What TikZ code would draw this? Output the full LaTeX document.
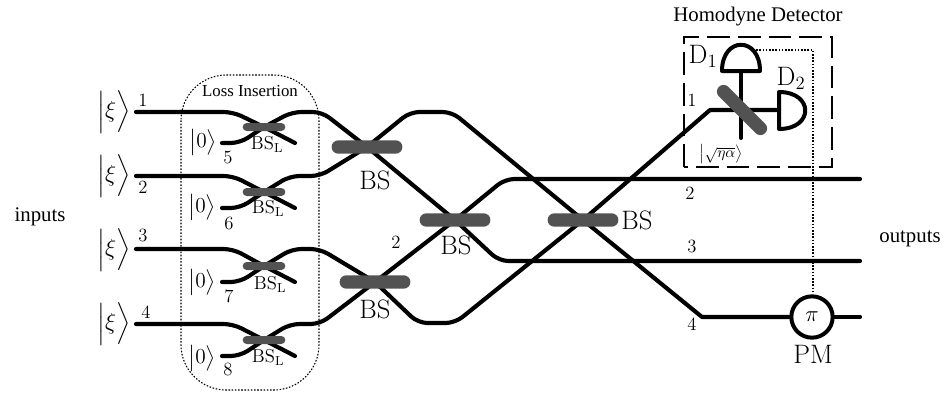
\documentclass[tikz,border=0pt]{standalone}
\usepackage{fix-cm}
\usepackage{amsmath, amssymb}
\usepackage{fontspec}
\setmainfont{Liberation Serif}
\usepackage{tikz}
\usetikzlibrary{backgrounds}
\definecolor{bsgray}{gray}{0.32}
\DeclareMathAlphabet{\mathcm}{OT1}{cmr}{m}{n}
\tikzset{
  guide/.style={line width=3.1pt,line cap=round,line join=round,rounded corners=7pt},
  thinguide/.style={line width=3pt,line cap=round,line join=miter},
  bsbar/.style={fill=bsgray,rounded corners=4.9pt,minimum width=53pt,minimum height=10pt,inner sep=0pt},
  bslbar/.style={fill=bsgray,rounded corners=3pt,minimum width=32pt,minimum height=6pt,inner sep=0pt},
  mirror/.style={fill=bsgray,rounded corners=4.9pt,minimum width=49pt,minimum height=10pt,inner sep=0pt,rotate=-45},
  bigtext/.style={font=\fontsize{20}{22}\selectfont,inner sep=0.75pt},
  smalltext/.style={font=\fontsize{14}{16}\selectfont,inner sep=0.75pt},
  ket/.style={font=\fontsize{16}{18}\selectfont,inner sep=0pt},
  bigket/.style={font=\fontsize{17.5}{18}\selectfont,inner sep=0pt},
  word/.style={font=\fontsize{15.6}{18}\selectfont,inner sep=0.75pt},
  linkdot/.style={line width=0.8pt,dash pattern=on 1.2pt off 1.2pt}
}
\begin{document}
\begin{tikzpicture}[x=0.75pt,y=0.75pt,yscale=-1,xscale=1]
            \useasboundingbox (0,0) rectangle (945,394);

            % Beam splitters
            \node (bsA) [bsbar] at (367,147) {};
            \node (bsB) [bsbar] at (455,220) {};
            \node (bsC) [bsbar] at (375,282) {};
            \node (bsD) [bsbar] at (583,220) {};
            \node (lossA) [bslbar] at (264,127) {};
            \node (lossB) [bslbar] at (264,192) {};
            \node (lossC) [bslbar] at (264,266) {};
            \node (lossD) [bslbar] at (264,340) {};
            \node (bsHom) [mirror] at (742,110) {};
            \node (pm) [circle,draw,line width=3pt,minimum size=31pt,inner sep=0pt,font=\fontsize{17}{20}\selectfont] at (812,317) {$\pi$};

            % Free ends
            \coordinate (inA) at (136,112);
            \coordinate (inB) at (136,176);
            \coordinate (inC) at (136,249);
            \coordinate (inD) at (136,324);
            \coordinate (outB) at (860,179);
            \coordinate (outC) at (860,261);
            \coordinate (outD) at (860,317);
            \coordinate (detA) at (741,71);
            \coordinate (detB) at (779,110);

            \begin{pgfonlayer}{background}
            % Input lines through the loss splitters
            \draw[guide] (inA) -- (233,112) -- (lossA.center) -- (295,143);
            \draw[guide] (inB) -- (233,176) -- (lossB.center) -- (295,208);
            \draw[guide] (inC) -- (233,249) -- (lossC.center) -- (295,282);
            \draw[guide] (inD) -- (233,324) -- (lossD.center) -- (295,356);

            % Vacuum ports on to the network
            \draw[guide] (222,143) -- (240,143) -- (lossA.center) -- (292,112) -- (322,112) -- (bsA.center) -- (bsB.center) -- (499,261) -- (outC);
            \draw[guide] (222,208) -- (240,208) -- (lossB.center) -- (290,176) -- (320,176) -- (bsA.center) -- (410,112) -- (452,112) -- (bsD.center) [sharp corners] -- (702,317) -- (pm.west);
            \draw[guide] (222,282) -- (240,282) -- (lossC.center) -- (292,249) -- (320,249) -- (bsC.center) -- (418,323) -- (455,323) -- (bsD.center) [sharp corners] -- (710,110) -- (detB);
            \draw[guide] (222,356) -- (240,356) -- (lossD.center) -- (290,324) -- (320,324) -- (bsC.center) -- (bsB.center) -- (505,179) -- (outB);
            \draw[guide] (pm.east) -- (outD);
            \draw[thinguide] (detA) -- (741,138);

            % Detectors
            \draw[line width=3pt,line join=round] (722,71) .. controls (722,36) and (760,36) .. (760,71) -- cycle;
            \draw[line width=3pt,line join=round] (779,92) .. controls (814,92) and (814,129) .. (779,129) -- cycle;
            \end{pgfonlayer}

            % Boxes
            \draw[linkdot,rounded corners=34pt] (181,75) rectangle (319,390);
            \draw[line width=0.9pt,dash pattern=on 17pt off 6pt] (684,167) -- (684,37) -- (832,37) -- (832,167) -- cycle;
            \draw[linkdot] (753,50) -- (813,50) -- (813,294);

            % Labels
            \node (lblInputs) [word] at (40,217) {inputs};
            \node (lblOutputs) [word] at (910,239) {outputs};
            \node (lblHomodyne) [word] at (758,17) {Homodyne Detector};
            \node (lblLoss) [font=\fontsize{12.6}{15}\selectfont,inner sep=0.75pt] at (250,91) {Loss Insertion};
            \node (ketA) [bigket] at (114,112) {$\Bigl|\xi\Bigr\rangle$};
            \node (ketB) [bigket] at (114,176) {$\Bigl|\xi\Bigr\rangle$};
            \node (ketC) [bigket] at (114,250) {$\Bigl|\xi\Bigr\rangle$};
            \node (ketD) [bigket] at (114,324) {$\Bigl|\xi\Bigr\rangle$};
            \node (zeroA) [ket] at (203,142) {$\bigl|0\bigr\rangle$};
            \node (zeroB) [ket] at (202,207) {$\bigl|0\bigr\rangle$};
            \node (zeroC) [ket] at (202,282) {$\bigl|0\bigr\rangle$};
            \node (zeroD) [ket] at (202,358) {$\bigl|0\bigr\rangle$};
            \node (numA) [smalltext] at (143,100) {$1$};
            \node (numB) [smalltext] at (143,187) {$2$};
            \node (numC) [smalltext] at (143,235) {$3$};
            \node (numD) [smalltext] at (146,312) {$4$};
            \node (numE) [smalltext] at (228,157) {$5$};
            \node (numF) [smalltext] at (229,223) {$6$};
            \node (numG) [smalltext] at (229,296) {$7$};
            \node (numH) [smalltext] at (228,369) {$8$};
            \node (numI) [smalltext] at (396,242) {$2$};
            \node (numJ) [smalltext] at (692,100) {$1$};
            \node (numK) [smalltext] at (690,193) {$2$};
            \node (numL) [smalltext] at (692,246) {$3$};
            \node (numM) [smalltext] at (692,324) {$4$};
            \node (lblLossA) [smalltext] at (267,145) {$\mathcm{BS_L}$};
            \node (lblLossB) [smalltext] at (268,209) {$\mathcm{BS_L}$};
            \node (lblLossC) [smalltext] at (270,285) {$\mathcm{BS_L}$};
            \node (lblLossD) [smalltext] at (268,358) {$\mathcm{BS_L}$};
            \node (lblA) [bigtext] at (375,180) {$\mathcm{BS}$};
            \node (lblB) [bigtext] at (456,245) {$\mathcm{BS}$};
            \node (lblC) [bigtext] at (375,309) {$\mathcm{BS}$};
            \node (lblD) [bigtext] at (637,220) {$\mathcm{BS}$};
            \node (lblDetA) [bigtext] at (703,56) {$\mathcm{D_1}$};
            \node (lblDetB) [bigtext] at (791,78) {$\mathcm{D_2}$};
            \node (lblPm) [bigtext] at (813,354) {$\mathcm{PM}$};
            \node (lblKet) [font=\fontsize{11.5}{13}\selectfont,inner sep=0.75pt] at (721,154) {$\bigl|\sqrt{\eta\alpha}\bigr\rangle$};

\end{tikzpicture}
\end{document}
